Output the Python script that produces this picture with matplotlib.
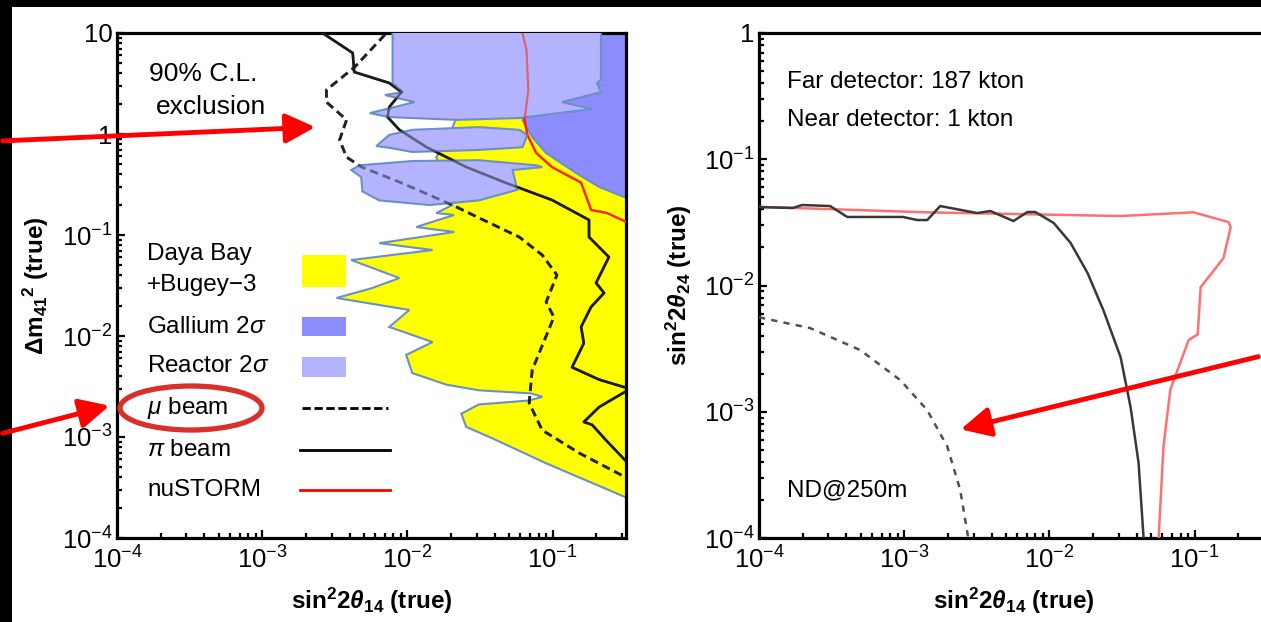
import numpy as np
import matplotlib
matplotlib.use('Agg')
import matplotlib.pyplot as plt
from matplotlib.patches import Polygon, Rectangle, Ellipse, FancyArrowPatch
from matplotlib.ticker import LogLocator, FuncFormatter, NullFormatter

plt.rcParams['font.family'] = ['Liberation Sans', 'DejaVu Sans']
plt.rcParams['mathtext.fontset'] = 'custom'
plt.rcParams['mathtext.rm'] = 'Liberation Sans'
plt.rcParams['mathtext.it'] = 'Liberation Sans:italic'
plt.rcParams['mathtext.bf'] = 'Liberation Sans:bold'
plt.rcParams['mathtext.bfit'] = 'Liberation Sans:italic:bold'

# ---- left panel: sin^2 2th14 vs dm41^2 ----
# Daya Bay + Bugey-3 (yellow)
db_x = [0.4, 0.022, 0.0194, 0.0158, 0.018, 0.0204, 0.0158, 0.021, 0.0115, 0.021, 0.0064, 0.0149,
        0.0041, 0.0088, 0.0057, 0.00325, 0.0103, 0.0075, 0.0149, 0.0098, 0.0108, 0.0185, 0.031,
        0.071, 0.085, 0.069, 0.031, 0.0235, 0.0254, 0.041, 0.09, 0.4]
db_y = [1.5, 1.5, 0.98, 0.59, 0.39, 0.198, 0.165, 0.158, 0.12, 0.107, 0.083, 0.071,
        0.0565, 0.0375, 0.0298, 0.0238, 0.0181, 0.0123, 0.0087, 0.0065, 0.0043, 0.0033, 0.0029,
        0.0027, 0.0025, 0.0023, 0.0021, 0.0017, 0.00126, 0.00093, 0.00055, 0.00022]

# Gallium 2 sigma
gal_x = [0.06, 0.4, 0.4, 0.31, 0.209, 0.145, 0.09, 0.0723, 0.062, 0.06]
gal_y = [12, 12, 0.235, 0.238, 0.299, 0.411, 0.649, 0.933, 1.38, 12]

# Reactor 2 sigma (three islands)
r1_x = [0.0079, 0.0079, 0.0093, 0.0070, 0.0112, 0.0055, 0.0075, 0.022, 0.059, 0.187, 0.116,
        0.215, 0.202, 0.215, 0.215]
r1_y = [12, 3.2, 2.6, 2.43, 2.07, 1.61, 1.47, 1.38, 1.44, 1.77, 2.07, 2.6, 3.2, 3.43, 12]
r2_x = [0.0061, 0.0075, 0.0108, 0.031, 0.059, 0.067, 0.062, 0.031, 0.0108, 0.0075]
r2_y = [0.76, 0.98, 1.10, 1.17, 1.10, 0.98, 0.74, 0.695, 0.664, 0.73]
r3_x = [0.0041, 0.0047, 0.0108, 0.031, 0.077, 0.085, 0.053, 0.057, 0.031, 0.0142, 0.0064,
        0.0049, 0.0048]
r3_y = [0.44, 0.49, 0.54, 0.55, 0.49, 0.47, 0.44, 0.28, 0.22, 0.198, 0.22, 0.27, 0.375]

# exclusion curves
pi_x = [0.0021, 0.0026, 0.0042, 0.0043, 0.0075, 0.0091, 0.0075, 0.0073, 0.0088, 0.0135, 0.0254,
        0.048, 0.099, 0.178, 0.178, 0.244, 0.199, 0.226, 0.184, 0.157, 0.164, 0.136, 0.209,
        0.315, 0.36, 0.315, 0.209, 0.164, 0.187, 0.233, 0.315, 0.36]
pi_y = [12, 10, 6.34, 4.11, 3.2, 2.6, 1.85, 1.47, 1.10, 0.743, 0.471, 0.327, 0.222, 0.141,
        0.0955, 0.0605, 0.0335, 0.0267, 0.0194, 0.0123, 0.0085, 0.0049, 0.0037, 0.0031, 0.0030,
        0.0028, 0.00198, 0.00141, 0.00132, 0.00093, 0.00059, 0.0005]
mu_x = [0.0081, 0.00718, 0.00433, 0.00277, 0.00277, 0.00381, 0.00341, 0.00381, 0.00483, 0.0088,
        0.0204, 0.0313, 0.0589, 0.0847, 0.107, 0.0902, 0.102, 0.0723, 0.0689, 0.0847, 0.152,
        0.315, 0.4]
mu_y = [12, 10, 4.6, 2.73, 2.07, 1.38, 0.873, 0.59, 0.471, 0.335, 0.198, 0.147, 0.0955, 0.0634,
        0.0402, 0.0217, 0.0154, 0.0046, 0.00217, 0.00117, 0.000695, 0.000402, 0.00033]
nu_x = [0.062, 0.062, 0.066, 0.068, 0.064, 0.067, 0.077, 0.099, 0.157, 0.184, 0.237, 0.32, 0.4]
nu_y = [12, 10, 6.8, 2.7, 1.38, 0.98, 0.65, 0.47, 0.33, 0.177, 0.165, 0.135, 0.11]

# ---- right panel: sin^2 2th14 vs sin^2 2th24 ----
nus_x = [1e-4, 1.4e-3, 0.031, 0.098, 0.171, 0.177, 0.158, 0.133, 0.11, 0.105, 0.091, 0.068,
         0.061, 0.0565, 0.056]
nus_y = [0.042, 0.038, 0.0355, 0.038, 0.0318, 0.029, 0.0165, 0.0128, 0.0097, 0.0041, 0.0037,
         0.0015, 5.3e-4, 1e-4, 8e-5]
pir_x = [1e-4, 1.71e-4, 1.98e-4, 3.09e-4, 4.05e-4, 9.8e-4, 1.23e-3, 1.44e-3, 1.77e-3, 3.18e-3,
         3.92e-3, 5.65e-3, 7.05e-3, 8.0e-3, 0.0107, 0.014, 0.0183, 0.0235, 0.0309, 0.0362,
         0.0411, 0.0445, 0.0447]
pir_y = [0.0418, 0.0411, 0.0434, 0.0426, 0.0349, 0.0349, 0.033, 0.033, 0.0426, 0.0375, 0.0389,
         0.0324, 0.0382, 0.0382, 0.0313, 0.0217, 0.01256, 0.0064, 0.00271, 0.00109, 3.93e-4,
         1e-4, 8e-5]
mur_x = [1e-4, 2.25e-4, 4.98e-4, 9.4e-4, 1.44e-3, 1.98e-3, 2.43e-3, 2.76e-3, 2.8e-3]
mur_y = [5.6e-3, 4.6e-3, 3.08e-3, 1.78e-3, 1.03e-3, 5.3e-4, 2.4e-4, 1e-4, 8e-5]

W, H = 1261, 622
fig = plt.figure(figsize=(W / 100, H / 100), dpi=100, facecolor='black')
fig.add_artist(Rectangle((12 / W, 0), 1, 1 - 7 / H, transform=fig.transFigure,
                         facecolor='white', edgecolor='none', zorder=-10))


def tick_fmt(v, pos):
    e = int(round(np.log10(v)))
    if e == 1:
        return '10'
    if e == 0:
        return '1'
    return r'$10^{%d}$' % e


def style(ax):
    ax.set_xscale('log')
    ax.set_yscale('log')
    for axis in (ax.xaxis, ax.yaxis):
        axis.set_major_locator(LogLocator(base=10, numticks=12))
        axis.set_minor_locator(LogLocator(base=10, subs=np.arange(2, 10), numticks=12))
        axis.set_major_formatter(FuncFormatter(tick_fmt))
        axis.set_minor_formatter(NullFormatter())
    ax.tick_params(which='both', direction='in', top=False, right=False, width=1.6,
                   labelsize=18.5, pad=3)
    ax.tick_params(axis='x', which='major', pad=6)
    ax.tick_params(which='major', length=6)
    ax.tick_params(which='minor', length=3.5)
    for s in ax.spines.values():
        s.set_linewidth(2.3)


edge = '#6b8fc7'
ax1 = fig.add_axes([117 / W, 1 - 538 / H, 509 / W, 505 / H])
style(ax1)
ax1.set_xlim(1e-4, 0.32)
ax1.set_ylim(1e-4, 10)

ax1.add_patch(Polygon(np.column_stack([db_x, db_y]), closed=True, facecolor='#ffff00',
                      edgecolor=edge, lw=1.5, zorder=1))
ax1.add_patch(Polygon(np.column_stack([gal_x, gal_y]), closed=True, facecolor='#8c8cff',
                      edgecolor=edge, lw=1.5, zorder=2))


def left_lines(alpha, z):
    ax1.plot(pi_x, pi_y, color='#1a1a1a', lw=1.9, alpha=alpha, zorder=z)
    ax1.plot(mu_x, mu_y, color='#222222', lw=2.0, ls=(0, (3, 1.8)), alpha=alpha, zorder=z)
    ax1.plot(nu_x, nu_y, color='#ff2200', lw=1.6, alpha=alpha, zorder=z)


left_lines(1.0, 3)
for rx, ry in ((r1_x, r1_y), (r2_x, r2_y), (r3_x, r3_y)):
    ax1.add_patch(Polygon(np.column_stack([rx, ry]), closed=True, facecolor='#b3b3ff',
                          edgecolor=edge, lw=1.5, zorder=4))
left_lines(0.55, 5)

# legend drawn by hand
tkw = dict(transform=ax1.transAxes, fontsize=17.5, va='center', ha='left')
ax1.text(0.0589, 0.5624, 'Daya Bay', **tkw)
ax1.text(0.0589, 0.501, '+Bugey\u22123', **tkw)
ax1.text(0.0589, 0.4178, r'Gallium 2$\sigma$', **tkw)
ax1.text(0.0589, 0.3406, r'Reactor 2$\sigma$', **tkw)
ax1.text(0.0589, 0.2574, r'$\mu$ beam', **tkw)
ax1.text(0.0589, 0.1743, r'$\pi$ beam', **tkw)
ax1.text(0.0589, 0.0950, 'nuSTORM', **tkw)
ax1.add_patch(Rectangle((0.3635, 0.497), 0.0864, 0.063, transform=ax1.transAxes,
                        facecolor='#ffff00', edgecolor='none', zorder=6))
ax1.add_patch(Rectangle((0.3635, 0.400), 0.0864, 0.0376, transform=ax1.transAxes,
                        facecolor='#8c8cff', edgecolor='none', zorder=6))
ax1.add_patch(Rectangle((0.3635, 0.3188), 0.0864, 0.0396, transform=ax1.transAxes,
                        facecolor='#b3b3ff', edgecolor='none', zorder=6))
ax1.plot([0.3635, 0.5324], [0.2574, 0.2574], transform=ax1.transAxes, color='black',
         lw=2.0, ls=(0, (3, 1.3)), zorder=6)
ax1.plot([0.3595, 0.5363], [0.1743, 0.1743], transform=ax1.transAxes, color='black',
         lw=2.0, zorder=6)
ax1.plot([0.3595, 0.5363], [0.0950, 0.0950], transform=ax1.transAxes, color='#ff0000',
         lw=2.0, zorder=6)
ax1.text(0.170, 0.9188, '90% C.L.', transform=ax1.transAxes, fontsize=19, ha='center',
         va='center')
ax1.text(0.1847, 0.8535, 'exclusion', transform=ax1.transAxes, fontsize=19, ha='center',
         va='center')

ax1.set_xlabel(r'$\mathbf{sin^{2}2}\mathbfit{\theta}_{\mathbf{14}}$ (true)', fontsize=17.5,
               fontweight='bold')
ax1.xaxis.set_label_coords(0.5, -0.095)
ax1.set_ylabel(r'$\mathbf{\Delta m_{41}}^{\mathbf{2}}$ (true)', fontsize=17.5,
               fontweight='bold')
ax1.yaxis.set_label_coords(-0.13, 0.5)

# ---- right panel ----
ax2 = fig.add_axes([759 / W, 1 - 538 / H, 509 / W, 505 / H])
style(ax2)
ax2.set_xlim(1e-4, 0.32)
ax2.set_ylim(1e-4, 1)
ax2.plot(nus_x, nus_y, color='#ff7070', lw=1.8, zorder=3)
ax2.plot(pir_x, pir_y, color='#383838', lw=1.8, zorder=4)
ax2.plot(mur_x, mur_y, color='#505050', lw=1.8, ls=(0, (2.5, 2.5)), zorder=4)
ax2.text(0.055, 0.903, 'Far detector: 187 kton', transform=ax2.transAxes, fontsize=17.5,
         va='center')
ax2.text(0.055, 0.8277, 'Near detector: 1 kton', transform=ax2.transAxes, fontsize=17.5,
         va='center')
ax2.text(0.055, 0.095, 'ND@250m', transform=ax2.transAxes, fontsize=17.5, va='center')
ax2.set_xlabel(r'$\mathbf{sin^{2}2}\mathbfit{\theta}_{\mathbf{14}}$ (true)', fontsize=17.5,
               fontweight='bold')
ax2.xaxis.set_label_coords(0.5, -0.095)
ax2.set_ylabel(r'$\mathbf{sin^{2}2}\mathbfit{\theta}_{\mathbf{24}}$ (true)', fontsize=17.5,
               fontweight='bold')
ax2.yaxis.set_label_coords(-0.128, 0.5)

# ---- red annotations on top ----
def fx(px, py):
    return (px / W, 1 - py / H)


for a, b in (((0, 141), (318, 127)), ((0, 434), (112, 405)), ((1261, 356), (958, 430))):
    fig.add_artist(FancyArrowPatch(fx(*a), fx(*b), transform=fig.transFigure,
                                   arrowstyle='-|>,head_length=1.0,head_width=0.5',
                                   mutation_scale=18, color='#ff0000', lw=3.5, zorder=20))
fig.add_artist(Ellipse(fx(191, 408), 142 / W, 44 / H, transform=fig.transFigure,
                       fill=False, edgecolor='#d9302c', lw=3.8, zorder=20))

fig.savefig('out.png', dpi=100, facecolor=fig.get_facecolor())
